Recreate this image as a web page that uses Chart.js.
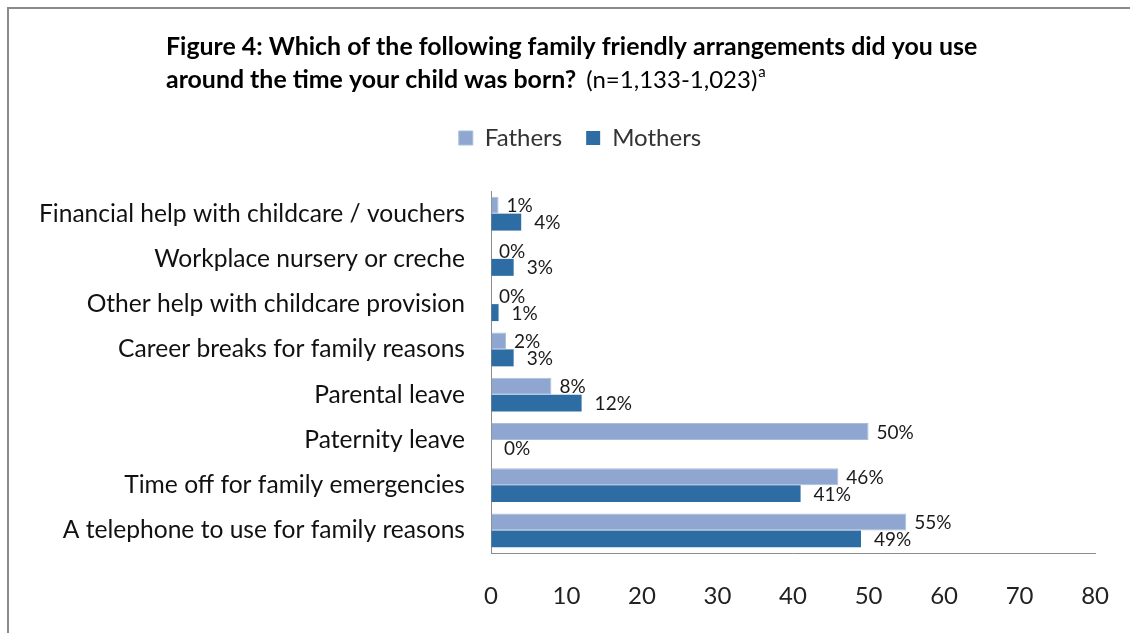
<!DOCTYPE html>
<html>
<head>
<meta charset="utf-8">
<script src="https://cdn.jsdelivr.net/npm/chart.js@4.4.1/dist/chart.umd.min.js"></script>
<style>
  html, body { margin: 0; padding: 0; background: #ffffff; }
  canvas { display: block; }
</style>
</head>
<body>
<canvas id="chart" width="1130" height="633"></canvas>
<script>
// Family friendly arrangements used around the birth, by parent (%)
const categories = [
  'Financial help with childcare / vouchers',
  'Workplace nursery or creche',
  'Other help with childcare provision',
  'Career breaks for family reasons',
  'Parental leave',
  'Paternity leave',
  'Time off for family emergencies',
  'A telephone to use for family reasons'
];
const seriesNames = ['Fathers', 'Mothers'];
const fathersValues = [1, 0, 0, 2, 8, 50, 46, 55];
const mothersValues = [4, 3, 1, 3, 12, 0, 41, 49];
const axisMin = 0;
const axisMax = 80;
const axisStep = 10;

const titleLine1 = 'Figure 4: Which of the following family friendly arrangements did you use';
const titleLine2 = 'around the time your child was born?';
const titleNote = ' (n=1,133-1,023)';
const titleMark = 'a';

const FONT = 'Lato, "Open Sans", sans-serif';

// Grey frame around the figure
const framePlugin = {
  id: 'frame',
  beforeDraw(chart) {
    const ctx = chart.ctx;
    ctx.save();
    ctx.strokeStyle = '#8a8a8a';
    ctx.lineWidth = 2;
    ctx.beginPath();
    ctx.moveTo(8, chart.height);
    ctx.lineTo(8, 8);
    ctx.lineTo(chart.width, 8);
    ctx.stroke();
    ctx.restore();
  }
};

// Nudge the legend row so it sits centred over the plot
const legendShiftPlugin = {
  id: 'legendShift',
  afterLayout(chart) {
    if (chart.legend) {
      chart.legend.left += 15;
      chart.legend.right += 15;
    }
  }
};

// Two-line heading with bold question and regular sample note
const headingPlugin = {
  id: 'heading',
  afterDraw(chart) {
    const ctx = chart.ctx;
    const x = 166;
    ctx.save();
    ctx.fillStyle = '#000000';
    ctx.textBaseline = 'middle';
    ctx.textAlign = 'left';
    ctx.font = 'bold 24.9px ' + FONT;
    ctx.fillText(titleLine1, x, 47);
    ctx.fillText(titleLine2, x, 80);
    let cx = x + ctx.measureText(titleLine2).width + 4;
    ctx.font = '24px ' + FONT;
    ctx.fillText(titleNote, cx, 80);
    cx += ctx.measureText(titleNote).width + 1;
    ctx.font = '15px ' + FONT;
    ctx.fillText(titleMark, cx, 72);
    ctx.restore();
  }
};

// Percentage labels beside each bar
const valueLabelPlugin = {
  id: 'valueLabels',
  afterDatasetsDraw(chart) {
    const ctx = chart.ctx;
    const gaps = [8, 13];
    ctx.save();
    ctx.font = '19px ' + FONT;
    ctx.fillStyle = '#1a1a1a';
    ctx.textAlign = 'left';
    ctx.textBaseline = 'middle';
    chart.data.datasets.forEach((ds, i) => {
      chart.getDatasetMeta(i).data.forEach((bar, j) => {
        ctx.fillText(ds.data[j] + '%', bar.x + gaps[i], bar.y + 1);
      });
    });
    ctx.restore();
  }
};

new Chart(document.getElementById('chart'), {
  type: 'bar',
  data: {
    labels: categories,
    datasets: [
      {
        label: seriesNames[0],
        data: fathersValues,
        backgroundColor: '#8fa7d0',
        borderColor: '#a9bcdd',
        borderWidth: 1,
        borderSkipped: 'start',
        categoryPercentage: 0.75,
        barPercentage: 1.0
      },
      {
        label: seriesNames[1],
        data: mothersValues,
        backgroundColor: '#2e6ca4',
        borderWidth: 0,
        categoryPercentage: 0.75,
        barPercentage: 1.0
      }
    ]
  },
  options: {
    indexAxis: 'y',
    responsive: false,
    animation: false,
    devicePixelRatio: 1,
    layout: { padding: { top: 102, right: 30, bottom: 0, left: 30 } },
    scales: {
      x: {
        min: axisMin,
        max: axisMax,
        ticks: {
          stepSize: axisStep,
          font: { family: FONT, size: 24 },
          color: '#222222',
          padding: 21
        },
        grid: {
          display: true,
          drawOnChartArea: false,
          drawTicks: true,
          tickLength: 8,
          color: 'rgba(0,0,0,0)'
        },
        border: { display: true, color: '#8c8c8c', width: 1 },
        afterFit(scale) { scale.height = 80; }
      },
      y: {
        ticks: {
          font: { family: FONT, size: 24.6 },
          color: '#111111',
          padding: 26
        },
        grid: { display: false, drawTicks: false },
        border: { display: true, color: '#8c8c8c', width: 1 },
        afterFit(scale) { scale.width = 461; }
      }
    },
    plugins: {
      legend: {
        position: 'top',
        labels: {
          boxWidth: 14,
          boxHeight: 14,
          padding: 24,
          color: '#333333',
          font: { family: FONT, size: 24 }
        }
      },
      subtitle: {
        display: true,
        text: '',
        position: 'top',
        weight: 500,
        padding: 0,
        font: { size: 31, lineHeight: 1 }
      },
      title: { display: false },
      tooltip: { enabled: false }
    }
  },
  plugins: [framePlugin, legendShiftPlugin, headingPlugin, valueLabelPlugin]
});
</script>
</body>
</html>
